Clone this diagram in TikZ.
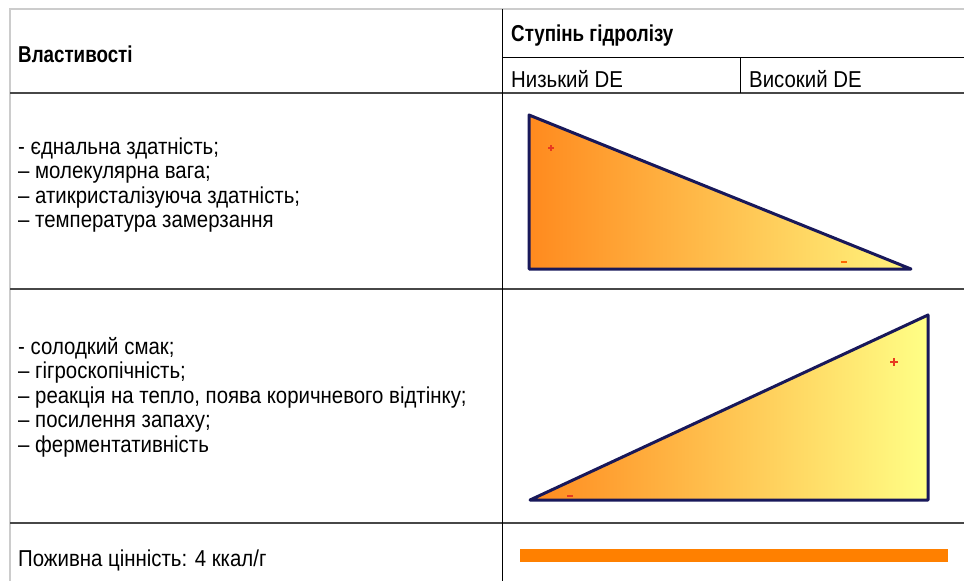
\documentclass[tikz,border=0pt]{standalone}
\usepackage{fontspec}
\setmainfont{Liberation Sans}[FakeStretch=0.887,BoldFeatures={FakeStretch=0.816}]
\definecolor{navy}{HTML}{18185A}
\definecolor{orA}{HTML}{FF8A1E}
\definecolor{orB}{HTML}{FDBA52}
\definecolor{yeC}{HTML}{FFF57E}
\definecolor{orD}{HTML}{FFD468}
\definecolor{yeE}{HTML}{FFFF86}
\definecolor{barc}{HTML}{FF8000}
\definecolor{plusc}{HTML}{E83A20}
\begin{document}
\begin{tikzpicture}[x=1pt,y=-1pt,
  txt/.style={anchor=base west,inner sep=0pt,font=\fontsize{23}{26}\selectfont},
  hdr/.style={txt,font=\fontsize{23}{26}\selectfont\bfseries},
  rowline/.style={draw=black!72,line width=2pt},
  thinline/.style={draw=black,line width=1pt},
  frameline/.style={draw=black!20,line width=1.5pt},
  tri/.style={draw=navy,line width=3pt,line join=round},
  signmark/.style={draw=plusc,line width=1.6pt},
]
\useasboundingbox (0,0) rectangle (964,581);
\fill[white] (0,0) rectangle (964,581);

% grid
\draw[frameline] (10,581) -- (10,9) -- (964,9);
\draw[rowline] (10,93) -- (964,93);
\draw[rowline] (10,289) -- (964,289);
\draw[rowline] (10,523) -- (964,523);
\draw[thinline] (502,9) -- (502,581);
\draw[thinline] (502,57) -- (964,57);
\draw[thinline] (740,57) -- (740,93);

% header
\node[hdr] (props) at (18,62) {Властивості};
\node[hdr] (deg) at (511,41) {Ступінь гідролізу};
\node[txt] (low) at (511,87) {Низький DE};
\node[txt] (high) at (749,87) {Високий DE};

% row 1 text
\node[txt] (ra1) at (18,154) {- єднальна здатність;};
\node[txt] (ra2) at (18,178) {– молекулярна вага;};
\node[txt] (ra3) at (18,203) {– атикристалізуюча здатність;};
\node[txt] (ra4) at (18,227) {– температура замерзання};

% row 2 text
\node[txt] (rb1) at (18,354) {- солодкий смак;};
\node[txt] (rb2) at (18,378) {– гігроскопічність;};
\node[txt] (rb3) at (18,403) {– реакція на тепло, поява коричневого відтінку;};
\node[txt] (rb4) at (18,427) {– посилення запаху;};
\node[txt] (rb5) at (18,452) {– ферментативність};

% row 3 text
\node[txt] (rc1) at (18,566) {Поживна цінність: 4 ккал/г};

% triangle 1
\coordinate (A1) at (529,115);
\coordinate (B1) at (529,269);
\coordinate (C1) at (911,269);
\shade[left color=orA, middle color=orB, right color=yeC] (A1) -- (B1) -- (C1) -- cycle;
\draw[tri] (A1) -- (B1) -- (C1) -- cycle;
\draw[signmark] (548,148) -- (554,148) (551,145) -- (551,151);
\draw[draw=orange!80!red,line width=1.6pt] (841,262) -- (847,262);

% triangle 2
\coordinate (A2) at (530,500);
\coordinate (B2) at (928,500);
\coordinate (C2) at (928,315);
\shade[left color=orA, middle color=orD, right color=yeE] (A2) -- (B2) -- (C2) -- cycle;
\draw[tri] (A2) -- (B2) -- (C2) -- cycle;
\draw[signmark] (890,362) -- (898,362) (894,358) -- (894,366);
\draw[signmark] (567,496) -- (573,496);

% bar
\fill[barc] (520,549) rectangle (948,562);
\end{tikzpicture}
\end{document}
